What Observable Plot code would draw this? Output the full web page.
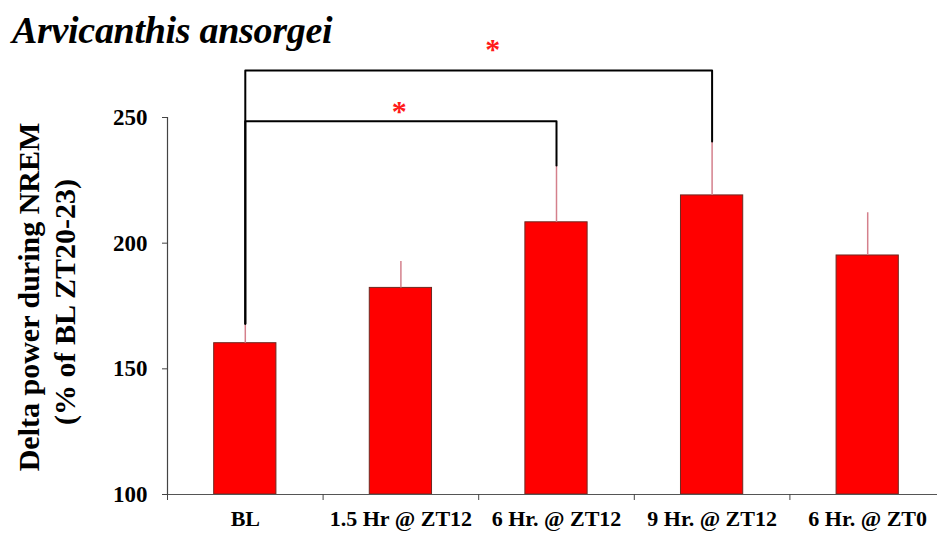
<!DOCTYPE html>
<html><head><meta charset="utf-8">
<script src="https://cdn.jsdelivr.net/npm/d3@7"></script>
<script src="https://cdn.jsdelivr.net/npm/@observablehq/plot@0.6"></script>
<style>
body{margin:0;background:#fff;}
#wrap{position:relative;width:937px;height:533px;overflow:hidden;}
#title{position:absolute;left:12px;top:8px;font-family:"Liberation Serif","Tinos","Times New Roman",serif;font-weight:bold;font-style:italic;font-size:38px;color:#000;letter-spacing:-0.3px;}
</style></head><body>
<div id="wrap"><div id="title">Arvicanthis ansorgei</div></div>
<script>
const categories = ["BL", "1.5 Hr @ ZT12", "6 Hr. @ ZT12", "9 Hr. @ ZT12", "6 Hr. @ ZT0"];
const means = [160.2, 182.2, 208.3, 219, 195.1];
const errors = [7.7, 10.5, 22.6, 21.5, 17];
const yTicks = [100, 150, 200, 250];
const bracketFrom = ["BL", "BL"];
const bracketTo = ["6 Hr. @ ZT12", "9 Hr. @ ZT12"];
const bracketLevel = [248.5, 268.7];
const starX = [0.99, 1.59];
const starY = [252.3, 277];
const yLabel1 = "Delta power during NREM";
const yLabel2 = "(% of BL ZT20-23)";

const SERIF = "'Liberation Serif', Tinos, 'Times New Roman', serif";
const rows = categories.map((c, i) => ({i, c, mean: means[i], top: means[i] + errors[i]}));
const idx = c => categories.indexOf(c);
const bracketPts = [];
bracketFrom.forEach((f, k) => {
  const a = idx(f), b = idx(bracketTo[k]);
  bracketPts.push({k, x: a, y: rows[a].top});
  bracketPts.push({k, x: a, y: bracketLevel[k]});
  bracketPts.push({k, x: b, y: bracketLevel[k]});
  bracketPts.push({k, x: b, y: rows[b].top});
});
const stars = starX.map((x, k) => ({x, y: starY[k]}));
const boundaries = d3.range(categories.length + 1).map(i => i - 0.5);

const chart = Plot.plot({
  width: 937,
  height: 533,
  marginLeft: 167,
  marginRight: 0,
  marginTop: 117,
  marginBottom: 39,
  style: {fontFamily: SERIF, fontWeight: "bold", color: "#000", background: "transparent", overflow: "visible"},
  x: {type: "linear", domain: [-0.5, 4.5], range: [167, 945]},
  y: {domain: [100, 250], range: [494, 117]},
  marks: [
    Plot.rectY(rows, {x1: d => d.i - 0.2, x2: d => d.i + 0.2, y1: 100, y2: "mean", fill: "#ff0000", stroke: "#6e2a22", strokeWidth: 1}),
    Plot.ruleX(rows, {x: "i", y1: "mean", y2: "top", stroke: "#d4808c", strokeWidth: 1.5}),
    Plot.line(bracketPts, {x: "x", y: "y", z: "k", stroke: "#000", strokeWidth: 2, curve: "linear"}),
    Plot.text(stars, {x: "x", y: "y", text: () => "*", fill: "#ff1a1a", fontSize: 30, fontWeight: "bold", fontFamily: SERIF, lineAnchor: "middle"}),
    Plot.ruleX([-0.5], {y1: 100, y2: 250, stroke: "#444", strokeWidth: 1.2}),
    Plot.ruleY([100], {x1: -0.5, x2: 4.5, stroke: "#555", strokeWidth: 1.2}),
    Plot.axisY({ticks: yTicks, tickSize: 5, tickPadding: 15, fontSize: 23, fontFamily: SERIF, label: null, stroke: "#444"}),
    Plot.axisX({ticks: boundaries, tickFormat: () => "", tickSize: 6, label: null, stroke: "#444"}),
    Plot.axisX({ticks: rows.map(d => d.i), tickFormat: i => categories[i], tickSize: 0, tickPadding: 16, fontSize: 22, fontFamily: SERIF, label: null}),
    Plot.text([yLabel1], {text: d => d, frameAnchor: "left", textAnchor: "middle", dx: -138, dy: -9, rotate: -90, fontSize: 30, fontFamily: SERIF, lineAnchor: "middle"}),
    Plot.text([yLabel2], {text: d => d, frameAnchor: "left", textAnchor: "middle", dx: -102, dy: -4, rotate: -90, fontSize: 30, fontFamily: SERIF, lineAnchor: "middle"})
  ]
});
document.getElementById("wrap").prepend(chart);
</script>
</body></html>
